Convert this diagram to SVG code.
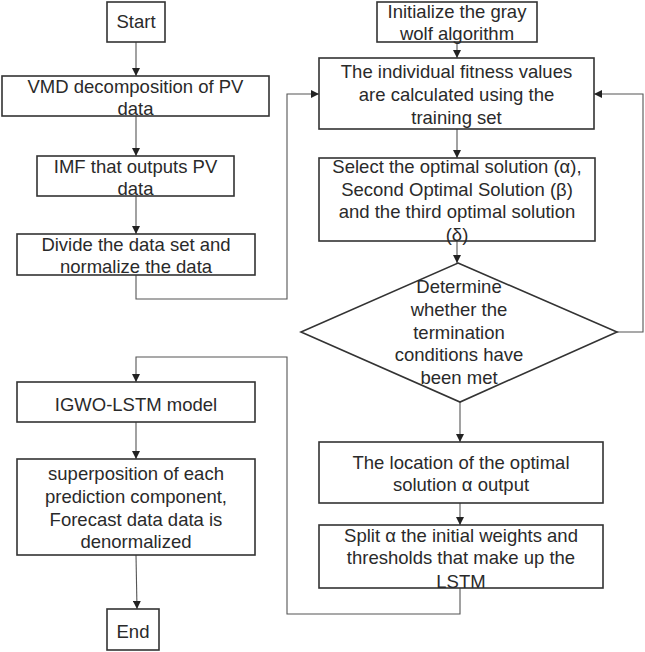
<svg xmlns="http://www.w3.org/2000/svg" width="645" height="652" viewBox="0 0 645 652">
<defs>
<style>
.box{fill:#fff;stroke:#333;stroke-width:1.6}
.t{font-family:"Liberation Sans",Arial,sans-serif;font-size:18.5px;fill:#2a2a2a;text-anchor:middle}
.c{fill:none;stroke:#555;stroke-width:1.1}
</style>
<marker id="ah" viewBox="0 0 10 10" refX="10" refY="5" markerWidth="8" markerHeight="8" markerUnits="userSpaceOnUse" orient="auto">
<path d="M0,0 L10,5 L0,10 z" fill="#222"/>
</marker>
</defs>
<rect width="645" height="652" fill="#fff"/>
<g id="connectors">
<line class="c" x1="136" y1="42" x2="136" y2="76" marker-end="url(#ah)"/>
<line class="c" x1="136" y1="116" x2="136" y2="156" marker-end="url(#ah)"/>
<line class="c" x1="136" y1="196" x2="136" y2="234" marker-end="url(#ah)"/>
<polyline class="c" points="136,275 136,299 287,299 287,94 319,94" marker-end="url(#ah)"/>
<line class="c" x1="457" y1="42" x2="457" y2="58" marker-end="url(#ah)"/>
<line class="c" x1="457" y1="129" x2="457" y2="158" marker-end="url(#ah)"/>
<line class="c" x1="457" y1="241" x2="457" y2="263" marker-end="url(#ah)"/>
<polyline class="c" points="617,332 643,332 643,94 594,94" marker-end="url(#ah)"/>
<line class="c" x1="460" y1="402" x2="460" y2="442" marker-end="url(#ah)"/>
<line class="c" x1="460" y1="503" x2="460" y2="525" marker-end="url(#ah)"/>
<polyline class="c" points="460,588 460,614 287,614 287,357 136,357 136,382" marker-end="url(#ah)"/>
<line class="c" x1="136" y1="422" x2="136" y2="459" marker-end="url(#ah)"/>
<line class="c" x1="136" y1="555" x2="137" y2="609" marker-end="url(#ah)"/>
</g>
<g id="start"><rect class="box" x="107" y="2" width="58" height="40"/><text class="t" x="136" y="28">Start</text></g>
<g id="vmd"><rect class="box" x="2" y="76" width="267" height="40"/><text class="t" x="135.5" y="93">VMD decomposition of PV</text><text class="t" x="135.5" y="115">data</text></g>
<g id="imf"><rect class="box" x="37" y="156" width="197" height="40"/><text class="t" x="135.5" y="173">IMF that outputs PV</text><text class="t" x="135.5" y="195">data</text></g>
<g id="divide"><rect class="box" x="17" y="234" width="238" height="41"/><text class="t" x="136" y="251">Divide the data set and</text><text class="t" x="136" y="273">normalize the data</text></g>
<g id="init"><rect class="box" x="377" y="2" width="160" height="40"/><text class="t" x="457" y="18">Initialize the gray</text><text class="t" x="457" y="40">wolf algorithm</text></g>
<g id="fitness"><rect class="box" x="319" y="58" width="275" height="71"/><text class="t" x="456.5" y="78">The individual fitness values</text><text class="t" x="456.5" y="101">are calculated using the</text><text class="t" x="456.5" y="124">training set</text></g>
<g id="select"><rect class="box" x="319" y="158" width="276" height="83"/><text class="t" x="457" y="173">Select the optimal solution (α),</text><text class="t" x="457" y="196">Second Optimal Solution (β)</text><text class="t" x="457" y="218">and the third optimal solution</text><text class="t" x="457" y="241">(δ)</text></g>
<g id="decision"><polygon class="box" points="458,263 617,332 460,402 301,332"/><text class="t" x="459" y="293">Determine</text><text class="t" x="459" y="316">whether the</text><text class="t" x="459" y="339">termination</text><text class="t" x="459" y="361">conditions have</text><text class="t" x="459" y="384">been met</text></g>
<g id="location"><rect class="box" x="319" y="442" width="284" height="61"/><text class="t" x="461" y="469">The location of the optimal</text><text class="t" x="461" y="491">solution α output</text></g>
<g id="split"><rect class="box" x="319" y="525" width="284" height="63"/><text class="t" x="461" y="542">Split α the initial weights and</text><text class="t" x="461" y="564">thresholds that make up the</text><text class="t" x="461" y="588">LSTM</text></g>
<g id="igwo"><rect class="box" x="17" y="382" width="238" height="40"/><text class="t" x="136" y="411">IGWO-LSTM model</text></g>
<g id="superpose"><rect class="box" x="17" y="459" width="238" height="96"/><text class="t" x="136" y="480">superposition of each</text><text class="t" x="136" y="503">prediction component,</text><text class="t" x="136" y="526">Forecast data data is</text><text class="t" x="136" y="548">denormalized</text></g>
<g id="end"><rect class="box" x="107" y="609" width="52" height="41"/><text class="t" x="133" y="638">End</text></g>
</svg>
